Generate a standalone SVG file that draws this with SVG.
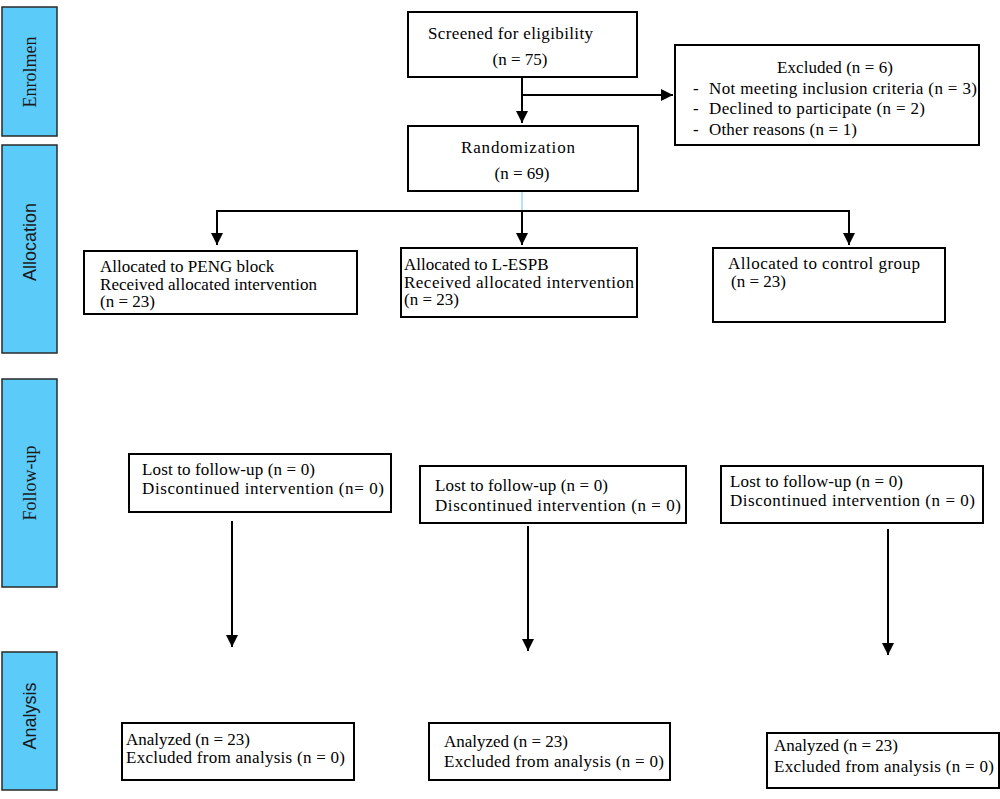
<svg xmlns="http://www.w3.org/2000/svg" width="1000" height="799" viewBox="0 0 1000 799">
<style>
.panel{fill:#5BCBFA;stroke:#2a2a2a;stroke-width:1.5}
.box{fill:#fff;stroke:#000;stroke-width:2}
.t{font-family:"Liberation Serif",serif;font-size:17px;fill:#000}
.side{font-size:18px;fill:#1a1a1a}
.serif{font-family:"Liberation Serif",serif}
.sans{font-family:"Liberation Sans",sans-serif}
.ln{fill:none;stroke:#000;stroke-width:2}
</style>
<defs>
<marker id="ah2" viewBox="0 0 10 10" refX="10" refY="5" markerWidth="12" markerHeight="12" markerUnits="userSpaceOnUse" orient="auto">
<path d="M0,0 L10,5 L0,10 z" fill="#000"/>
</marker>
</defs>

<g id="panel-enrolment"><rect class="panel" x="2" y="7" width="55" height="129"/><text class="side serif" transform="translate(36,72) rotate(-90)" text-anchor="middle">Enrolmen</text></g>
<g id="panel-allocation"><rect class="panel" x="2" y="145" width="55" height="208"/><text class="side sans" transform="translate(36,242) rotate(-90)" text-anchor="middle">Allocation</text></g>
<g id="panel-followup"><rect class="panel" x="2" y="379" width="55" height="208"/><text class="side serif" transform="translate(36,483) rotate(-90)" text-anchor="middle">Follow-up</text></g>
<g id="panel-analysis"><rect class="panel" x="2" y="652" width="55" height="138"/><text class="side sans" transform="translate(36,716) rotate(-90)" text-anchor="middle">Analysis</text></g>

<g id="connectors">
<line class="ln" x1="522" y1="77" x2="522" y2="123" marker-end="url(#ah2)"/>
<line class="ln" x1="522" y1="95" x2="673" y2="95" marker-end="url(#ah2)"/>
<line x1="522" y1="191" x2="522" y2="211" stroke="#6cc8f0" stroke-width="1"/>
<polyline class="ln" points="217,245 217,211 849,211 849,245" marker-end="url(#ah2)"/>
<line class="ln" x1="217" y1="211" x2="217" y2="245" marker-end="url(#ah2)"/>
<line class="ln" x1="522" y1="211" x2="522" y2="245" marker-end="url(#ah2)"/>
<line class="ln" x1="232" y1="521" x2="232" y2="647" marker-end="url(#ah2)"/>
<line class="ln" x1="528" y1="526" x2="528" y2="651" marker-end="url(#ah2)"/>
<line class="ln" x1="888" y1="529" x2="888" y2="655" marker-end="url(#ah2)"/>
</g>

<g id="screened"><rect class="box" x="408" y="12" width="229" height="65"/>
<text class="t" x="428" y="39" textLength="165">Screened for eligibility</text>
<text class="t" x="520" y="65" text-anchor="middle">(n = 75)</text></g>

<g id="excluded"><rect class="box" x="675" y="45" width="304" height="100"/>
<text class="t" x="777" y="73" textLength="116">Excluded (n = 6)</text>
<text class="t" x="693" y="94">-</text><text class="t" x="709" y="94" textLength="268">Not meeting inclusion criteria (n = 3)</text>
<text class="t" x="693" y="114">-</text><text class="t" x="709" y="114" textLength="216">Declined to participate (n = 2)</text>
<text class="t" x="693" y="135">-</text><text class="t" x="709" y="135" textLength="148">Other reasons (n = 1)</text></g>

<g id="randomization"><rect class="box" x="408" y="126" width="230" height="65"/>
<text class="t" x="461" y="153" textLength="114">Randomization</text>
<text class="t" x="522" y="179" text-anchor="middle">(n = 69)</text></g>

<g id="alloc-peng"><rect class="box" x="84" y="251" width="273" height="63"/>
<text class="t" x="100" y="272">Allocated to PENG block</text>
<text class="t" x="100" y="290" textLength="217">Received allocated intervention</text>
<text class="t" x="100" y="307">(n = 23)</text></g>

<g id="alloc-lespb"><rect class="box" x="401" y="248" width="236" height="69"/>
<text class="t" x="404" y="270">Allocated to L-ESPB</text>
<text class="t" x="404" y="288" textLength="230">Received allocated intervention</text>
<text class="t" x="404" y="305">(n = 23)</text></g>

<g id="alloc-control"><rect class="box" x="713" y="248" width="232" height="74"/>
<text class="t" x="728" y="269" textLength="192">Allocated to control group</text>
<text class="t" x="731" y="287">(n = 23)</text></g>

<g id="fu-1"><rect class="box" x="129" y="454" width="262" height="58"/>
<text class="t" x="142" y="475" textLength="173">Lost to follow-up (n = 0)</text>
<text class="t" x="142" y="494" textLength="242">Discontinued intervention (n= 0)</text></g>

<g id="fu-2"><rect class="box" x="420" y="466" width="266" height="57"/>
<text class="t" x="435" y="491" textLength="173">Lost to follow-up (n = 0)</text>
<text class="t" x="435" y="511" textLength="246">Discontinued intervention (n = 0)</text></g>

<g id="fu-3"><rect class="box" x="721" y="466" width="262" height="57"/>
<text class="t" x="730" y="487" textLength="173">Lost to follow-up (n = 0)</text>
<text class="t" x="730" y="506" textLength="245">Discontinued intervention (n = 0)</text></g>

<g id="an-1"><rect class="box" x="122" y="723" width="232" height="57"/>
<text class="t" x="126" y="745" textLength="124">Analyzed (n = 23)</text>
<text class="t" x="126" y="763" textLength="219">Excluded from analysis (n = 0)</text></g>

<g id="an-2"><rect class="box" x="429" y="723" width="241" height="57"/>
<text class="t" x="444" y="747" textLength="124">Analyzed (n = 23)</text>
<text class="t" x="444" y="767" textLength="220">Excluded from analysis (n = 0)</text></g>

<g id="an-3"><rect class="box" x="767" y="733" width="232" height="55"/>
<text class="t" x="774" y="751" textLength="124">Analyzed (n = 23)</text>
<text class="t" x="774" y="772" textLength="220">Excluded from analysis (n = 0)</text></g>
</svg>
